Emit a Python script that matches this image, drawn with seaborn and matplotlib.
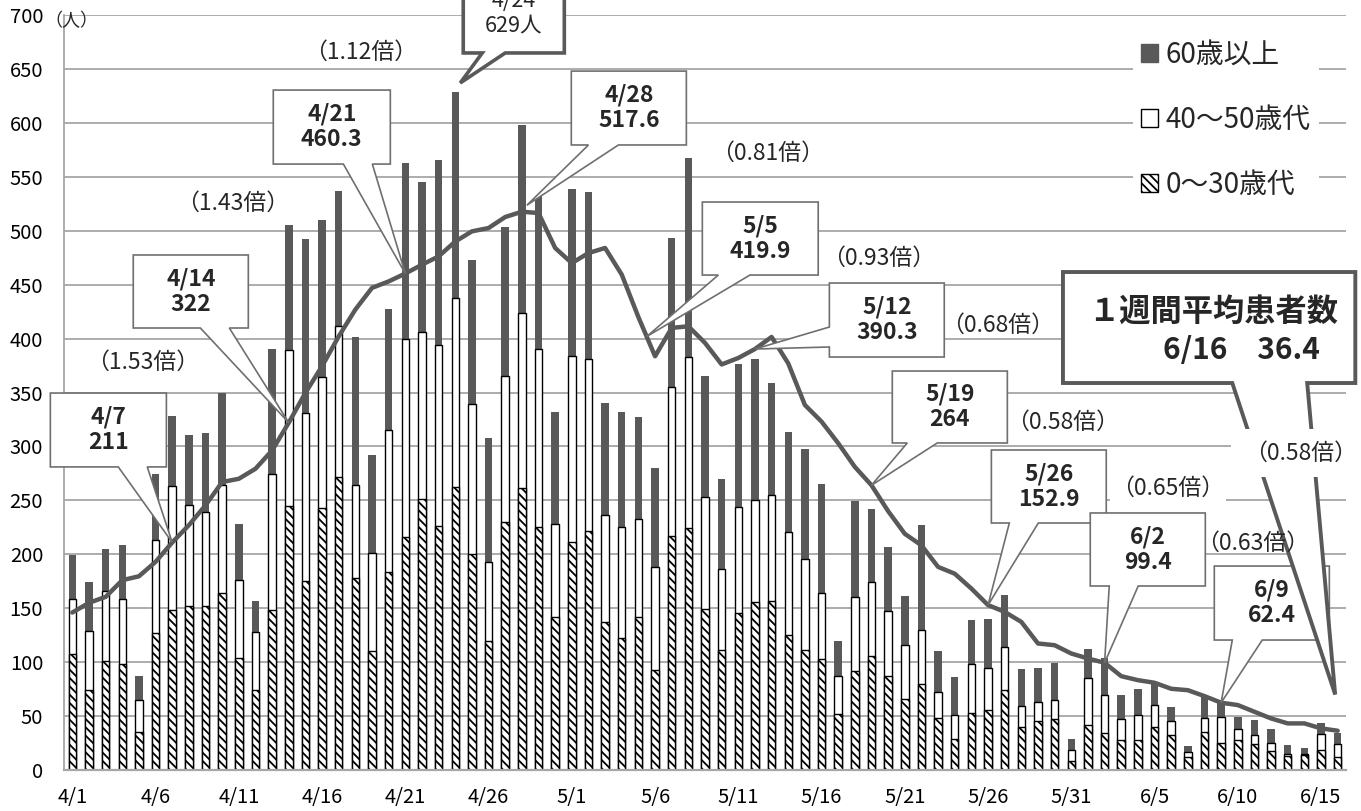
import matplotlib
matplotlib.use('Agg')
import matplotlib.pyplot as plt
from matplotlib.patches import Polygon, Patch
import numpy as np
import pandas as pd
import seaborn as sns

# 4/1 - 6/16
dates = [f"{d.month}/{d.day}" for d in pd.date_range('2020-04-01', '2020-06-16')]

# 0~30歳代
young = [108, 74, 101, 98, 35, 127, 148, 152, 152, 164, 104, 74, 148, 245, 175, 243, 272, 178, 110, 184,
         216, 251, 226, 262, 200, 120, 230, 261, 225, 142, 211, 222, 137, 122, 142, 93, 217, 224, 149, 111,
         146, 156, 157, 125, 111, 103, 52, 92, 106, 87, 66, 80, 48, 29, 53, 56, 74, 40, 45, 47,
         8, 42, 34, 28, 28, 40, 32, 12, 35, 25, 28, 24, 18, 13, 14, 19, 12]
# 40~50歳代
mid = [51, 55, 65, 61, 30, 86, 115, 94, 87, 100, 72, 54, 126, 144, 156, 121, 140, 86, 91, 131,
       184, 155, 168, 176, 139, 73, 135, 163, 165, 86, 173, 159, 99, 103, 91, 95, 138, 159, 104, 75,
       98, 94, 98, 96, 85, 61, 35, 68, 68, 60, 50, 50, 24, 22, 45, 39, 40, 19, 18, 18,
       11, 43, 36, 19, 23, 20, 13, 5, 13, 24, 10, 8, 7, 2, 1, 14, 12]
# 60歳以上
old = [40, 45, 39, 50, 22, 61, 65, 65, 73, 86, 52, 29, 116, 116, 161, 146, 125, 137, 91, 112,
       163, 139, 172, 191, 134, 115, 138, 174, 142, 104, 155, 155, 104, 107, 94, 92, 138, 184, 112, 84,
       132, 131, 104, 92, 102, 101, 33, 89, 68, 60, 45, 97, 38, 35, 41, 45, 48, 35, 32, 34,
       10, 27, 34, 23, 24, 20, 13, 5, 21, 14, 11, 14, 13, 8, 5, 11, 10]
# 1週間平均
avg = [146, 155, 160.5, 176, 179.6, 193, 211, 227, 245.4, 267, 270, 279.3, 296.3, 322, 349.7, 374.4,
       402, 426.9, 447, 453, 460.3, 468.5, 476.2, 490, 499.4, 502.5, 512.7, 517.6, 516.4, 484, 470,
       479.3, 484, 459.3, 419.9, 383.6, 409.9, 411.4, 396, 376, 382, 390.3, 401.5, 377, 338.4, 323,
       303, 281, 264, 240, 219, 208.3, 188.3, 182, 168.2, 152.9, 146.6, 137.3, 117.3, 115.7, 108,
       103.4, 99.4, 87, 83.3, 80.9, 75.3, 74, 68.5, 62.4, 60.2, 54, 47.8, 43.2, 43.2, 38.6, 36.4]

df = pd.DataFrame({'day': np.arange(len(dates)), 'date': dates,
                   'young': young, 'mid': mid, 'old': old, 'avg': avg})
df['upto50'] = df['young'] + df['mid']
df['total'] = df['upto50'] + df['old']

DARK = '#595959'
GRID = '#a6a6a6'
BOXEDGE = '#6f6f6f'

sns.set_theme(style='white')
plt.rcParams['font.family'] = ['Noto Sans CJK JP', 'DejaVu Sans']
plt.rcParams['hatch.linewidth'] = 1.3

fig = plt.figure(figsize=(13.61, 8.11), dpi=100)
ax = fig.add_axes([64 / 1361, 1 - 770 / 811, 1282 / 1361, 755 / 811])

kw = dict(x='day', native_scale=True, width=0.45, saturation=1, errorbar=None, ax=ax)
sns.barplot(data=df, y='total', color=DARK, linewidth=0, **kw)
sns.barplot(data=df, y='upto50', color='white', edgecolor='black', linewidth=1.0, **kw)
sns.barplot(data=df, y='young', color='white', edgecolor='black', linewidth=1.0,
            hatch='\\\\\\\\', **kw)
sns.lineplot(data=df, x='day', y='avg', color=DARK, linewidth=3.2, ax=ax, legend=False, zorder=4)

ax.set_xlim(-0.5, len(dates) - 0.5)
ax.set_ylim(0, 700)
ax.set_yticks(np.arange(0, 701, 50))
ax.set_xticks(df['day'][::5])
ax.set_xticklabels(df['date'][::5])
ax.tick_params(axis='both', length=0, labelsize=14.5, colors='black')
ax.tick_params(axis='y', pad=15)
ax.tick_params(axis='x', pad=12)
ax.set_xlabel('')
ax.set_ylabel('')
ax.yaxis.grid(True, color=GRID, linewidth=1.3)
ax.set_axisbelow(True)
for s in ['top', 'right']:
    ax.spines[s].set_visible(False)
ax.spines['left'].set_color(GRID)
ax.spines['left'].set_linewidth(1.3)
ax.spines['bottom'].set_color(GRID)
ax.spines['bottom'].set_linewidth(1.6)

ax.text(0.006, 0.992, '（人）', transform=ax.transAxes, ha='center', va='center', fontsize=13)


def callout(x0, x1, ylo, yhi, base, tip, text, side='bottom', lw=1.2, ec=BOXEDGE,
            bold=True, size=16.5, text_xy=None):
    if side == 'bottom':
        pts = [(x0, yhi), (x1, yhi), (x1, ylo), (base[1], ylo), tip, (base[0], ylo), (x0, ylo)]
    else:
        pts = [(x0, yhi), (x1, yhi), (x1, ylo), (x0, ylo), (x0, base[0]), tip, (x0, base[1])]
    ax.add_patch(Polygon(pts, closed=True, facecolor='white', edgecolor=ec, linewidth=lw,
                         zorder=6, clip_on=False, joinstyle='miter'))
    if text_xy is None:
        text_xy = ((x0 + x1) / 2, (ylo + yhi) / 2)
    ax.text(text_xy[0], text_xy[1], text, ha='center', va='center', fontsize=size,
            fontweight='bold' if bold else 'normal', linespacing=1.15, zorder=7, clip_on=False)


a = df['avg']
callout(-1.32, 5.65, 281, 349.5, (2.76, 4.5), (6, a[6]), '4/7\n211')
callout(3.66, 10.57, 409.8, 477.5, (7.69, 9.43), (13, a[13]), '4/14\n322')
callout(12.07, 19.1, 561.8, 630.4, (16.28, 18.02), (20, a[20]), '4/21\n460.3')
callout(29.97, 36.88, 579.5, 648, (31.0, 32.8), (27.3, a[27] + 6), '4/28\n517.6')
callout(37.84, 44.8, 458.9, 526.6, (38.8, 40.7), (34.5, a[34] - 18), '5/5\n419.9')
callout(45.47, 52.37, 382.9, 451.5, (392.2, 410.7), (41, a[41]), '5/12\n390.3', side='left')
callout(49.25, 56.16, 303.2, 369.9, (50.15, 51.95), (48, a[48]), '5/19\n264')
callout(55.2, 62.1, 229, 296.7, (56.28, 58.02), (55, a[55]), '5/26\n152.9')
callout(61.14, 68.05, 170.6, 238.3, (62.28, 64.02), (62, a[62]), '6/2\n99.4')
callout(68.59, 75.5, 120.5, 189.1, (69.67, 71.47), (69, a[69]), '6/9\n62.4')
callout(23.48, 29.55, 664.8, 742, (24.62, 26.0), (23.3, df['total'][23] + 8),
        '4/24\n629人', lw=2.6, ec=DARK, bold=False, size=15.5, text_xy=(26.5, 702))

# 1週間平均患者数 box
callout(59.5, 77.06, 358.8, 461.7, (69.67, 74.17), (75.85, 70), '', lw=2.8, ec=DARK)
ax.text(68.5, 425, '１週間平均患者数', ha='center', va='center', fontsize=22.5,
        fontweight='bold', zorder=7)
ax.text(70.2, 389, '6/16　36.4', ha='center', va='center', fontsize=21.5,
        fontweight='bold', zorder=7)

ratios = ['（1.53倍）', '（1.43倍）', '（1.12倍）', '（0.81倍）', '（0.93倍）',
          '（0.68倍）', '（0.58倍）', '（0.65倍）', '（0.63倍）', '（0.58倍）']
ratio_x = [4.2, 9.6, 17.3, 41.74, 48.4, 55.6, 59.5, 65.8, 70.9, 73.75]
ratio_y = [378.3, 525.7, 665.7, 572, 474.7, 412.6, 322.6, 261.5, 210.5, 293.9]
for i, (t, x, y) in enumerate(zip(ratios, ratio_x, ratio_y)):
    if i == len(ratios) - 1:
        ax.text(x, y, t, ha='center', va='center', fontsize=16.5, zorder=8,
                bbox=dict(boxstyle='square,pad=0.55', facecolor='white', edgecolor='none'))
    elif t == '（0.63倍）':
        ax.text(x, y, t, ha='center', va='center', fontsize=16.5, zorder=7.5)
    else:
        ax.text(x, y, t, ha='center', va='center', fontsize=16.5, zorder=3,
                bbox=dict(boxstyle='square,pad=0.05', facecolor='white', edgecolor='none'))

handles = [Patch(facecolor=DARK, edgecolor=DARK, label='60歳以上'),
           Patch(facecolor='white', edgecolor='black', label='40～50歳代'),
           Patch(facecolor='white', edgecolor='black', hatch='\\\\\\\\', label='0～30歳代')]
leg = ax.legend(handles=handles, loc='upper right', bbox_to_anchor=(0.99, 0.997),
                fontsize=20, frameon=True, fancybox=False, facecolor='white', edgecolor='none',
                framealpha=1, handlelength=0.6, handleheight=0.6, handletextpad=0.3,
                labelspacing=1.27, borderpad=0.3)
leg.set_zorder(9)

fig.savefig('out.png', dpi=100)
